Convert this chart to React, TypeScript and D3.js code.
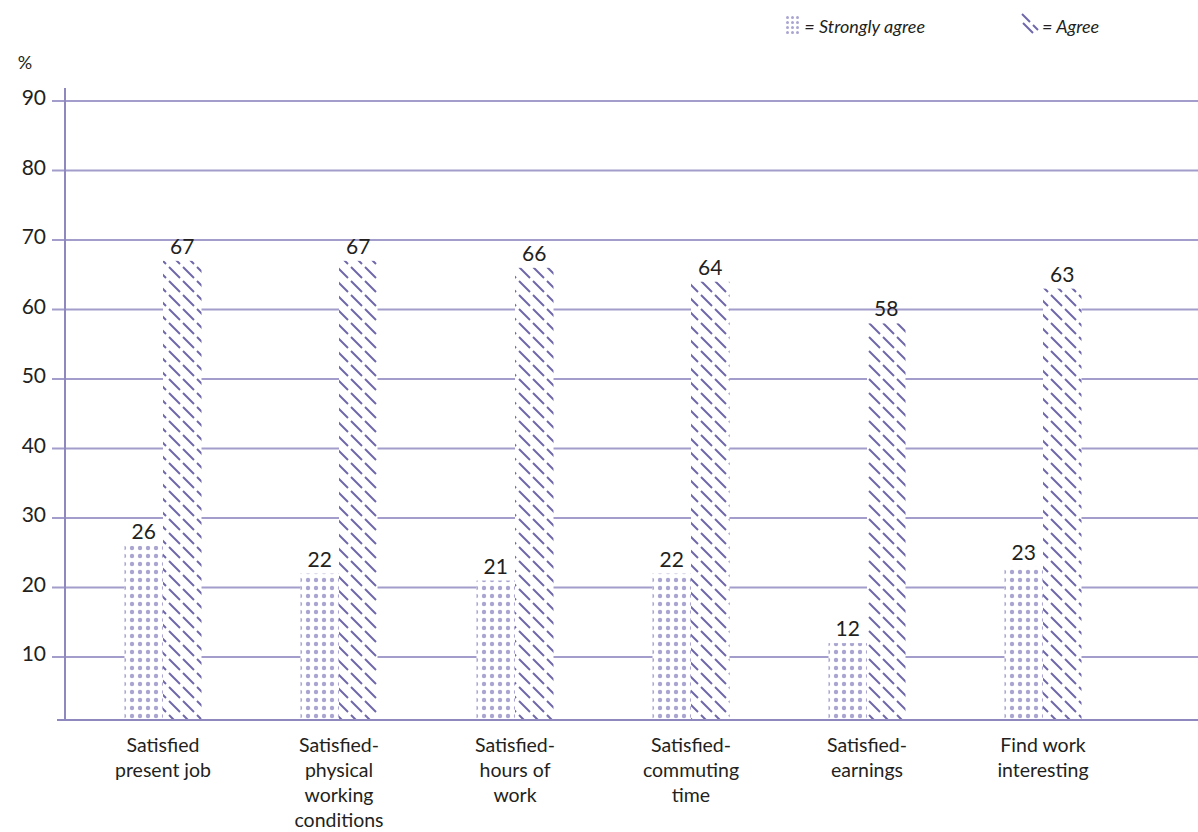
import React from "react";
import * as d3 from "d3";

const categories = [
  ["Satisfied", "present job"],
  ["Satisfied-", "physical", "working", "conditions"],
  ["Satisfied-", "hours of", "work"],
  ["Satisfied-", "commuting", "time"],
  ["Satisfied-", "earnings"],
  ["Find work", "interesting"],
];
const stronglyAgree = [26, 22, 21, 22, 12, 23];
const agree = [67, 67, 66, 64, 58, 63];
const yTicks = [10, 20, 30, 40, 50, 60, 70, 80, 90];

const W = 1198;
const H = 832;
const GRID = "#a29dcb";
const AXIS = "#8e88bf";
const DOT = "#a9a5d0";
const HATCH = "#6e67a9";
const TEXT = "#231f20";
const FONT = "Lato, 'Open Sans', sans-serif";

export default function App() {
  const y = d3.scaleLinear().domain([10, 90]).range([657, 101]);
  const step = 176;
  const x = d3
    .scaleBand<number>()
    .domain(d3.range(categories.length))
    .range([163 - step / 2, 163 - step / 2 + 6 * step])
    .paddingInner(0)
    .paddingOuter(0);
  const baseY = 720;
  const axisX = 65;
  const barW = 38.5;

  return (
    <svg width={W} height={H} style={{ position: "absolute", left: 0, top: 0, background: "#fff" }}>
      <defs>
        <pattern id="dots" patternUnits="userSpaceOnUse" width="8" height="8" x="0" y="0">
          <circle cx="4" cy="4" r="2.2" fill={DOT} />
        </pattern>
        <pattern id="dotsSmall" patternUnits="userSpaceOnUse" width="5" height="5" x="0" y="0">
          <circle cx="2.5" cy="2.5" r="1.5" fill={DOT} />
        </pattern>
        <pattern id="hatch" patternUnits="userSpaceOnUse" width="14" height="14">
          <line x1="1" y1="1" x2="12" y2="12" stroke={HATCH} strokeWidth="1.9" />
          <line x1="-13" y1="1" x2="-2" y2="12" stroke={HATCH} strokeWidth="1.9" />
          <line x1="15" y1="1" x2="26" y2="12" stroke={HATCH} strokeWidth="1.9" />
        </pattern>
      </defs>

      {/* gridlines */}
      {yTicks.map((t) => (
        <line key={t} x1={52} x2={W} y1={y(t)} y2={y(t)} stroke={GRID} strokeWidth={2} />
      ))}
      {/* y axis */}
      <line x1={axisX} x2={axisX} y1={88} y2={baseY} stroke={AXIS} strokeWidth={2} />
      {yTicks.map((t) => (
        <text key={t} x={46} y={y(t) + 4} textAnchor="end" fontFamily={FONT} fontSize={21} fill={TEXT}>
          {t}
        </text>
      ))}
      <text x={25} y={69} textAnchor="middle" fontFamily={FONT} fontSize={18} fill={TEXT}>%</text>

      {/* bars */}
      {categories.map((c, i) => {
        const cx = (x(i) as number) + x.bandwidth() / 2;
        const ySA = y(stronglyAgree[i]);
        const yA = y(agree[i]);
        return (
          <g key={i}>
            <rect x={cx - barW} y={ySA} width={barW} height={baseY - ySA} fill="#fff" />
            <rect x={cx - barW} y={ySA} width={barW} height={baseY - ySA} fill="url(#dots)" />
            <rect x={cx} y={yA} width={barW} height={baseY - yA} fill="#fff" />
            <rect x={cx} y={yA} width={barW} height={baseY - yA} fill="url(#hatch)" />
            <text x={cx - barW / 2} y={ySA - 7} textAnchor="middle" fontFamily={FONT} fontSize={21} fill={TEXT}>
              {stronglyAgree[i]}
            </text>
            <text x={cx + barW / 2} y={yA - 7} textAnchor="middle" fontFamily={FONT} fontSize={21} fill={TEXT}>
              {agree[i]}
            </text>
            {c.map((line, j) => (
              <text key={j} x={cx} y={752 + j * 25} textAnchor="middle" fontFamily={FONT} fontSize={19.5} fill={TEXT}>
                {line}
              </text>
            ))}
          </g>
        );
      })}

      {/* baseline */}
      <line x1={57} x2={W} y1={baseY} y2={baseY} stroke={AXIS} strokeWidth={2} />

      {/* legend */}
      <rect x={785} y={15} width={15} height={20} fill="url(#dotsSmall)" />
      <text x={925} y={33} textAnchor="end" fontFamily={FONT} fontSize={18} fontStyle="italic" fill={TEXT}>= Strongly agree</text>
      <g>
        <line x1={1022} y1={14} x2={1030} y2={22} stroke={HATCH} strokeWidth={2} />
        <line x1={1033} y1={25} x2={1038} y2={30} stroke={HATCH} strokeWidth={2} />
        <line x1={1023} y1={23} x2={1033} y2={33} stroke={HATCH} strokeWidth={2} />
      </g>
      <text x={1042} y={33} fontFamily={FONT} fontSize={18} fontStyle="italic" fill={TEXT}>= Agree</text>
    </svg>
  );
}
